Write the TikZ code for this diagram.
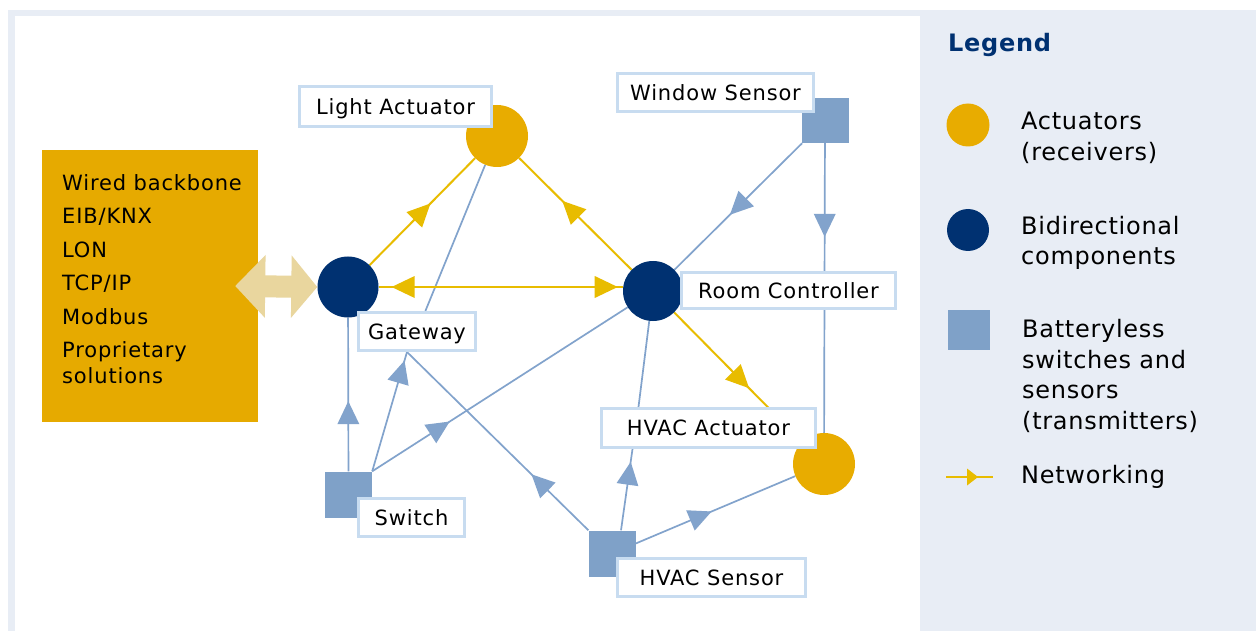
\documentclass[tikz,border=0pt]{standalone}
\usepackage{fontspec}
\setmainfont{DejaVu Sans}
\newfontfamily\lblfam[LetterSpace=4]{DejaVu Sans}
\newfontfamily\legfam[LetterSpace=3]{DejaVu Sans}
\newcommand\lblfont{\lblfam\fontsize{21}{26}\selectfont}
\newcommand\legfont{\legfam\fontsize{24}{30.7}\selectfont}
\newcommand\legtitle{\legfam\bfseries\fontsize{24}{30}\selectfont}
\usetikzlibrary{arrows.meta,decorations.markings,calc}
\definecolor{navy}{RGB}{0,49,113}
\definecolor{actyellow}{RGB}{232,172,0}
\definecolor{bbyellow}{RGB}{230,170,0}
\definecolor{sqblue}{RGB}{127,161,200}
\definecolor{lineblue}{RGB}{130,163,204}
\definecolor{lineyellow}{RGB}{232,188,0}
\definecolor{lblue}{RGB}{200,220,240}
\definecolor{tanc}{RGB}{233,214,158}
\definecolor{legbg}{RGB}{232,237,245}
\pgfdeclarelayer{bg}
\pgfdeclarelayer{edges}
\pgfsetlayers{bg,edges,main}
\tikzset{
  lbl/.style={draw=lblue, line width=3pt, fill=white, inner sep=0pt, font=\lblfont, text height=17pt, text depth=1.6pt},
  act/.style={circle, fill=actyellow, minimum size=62pt, inner sep=0pt},
  bid/.style={circle, fill=navy, minimum size=61pt, inner sep=0pt},
  sen/.style={rectangle, fill=sqblue, minimum width=47pt, minimum height=46pt, inner sep=0pt},
  bbox/.style={rectangle, fill=bbyellow, minimum width=216pt, minimum height=272pt, inner sep=0pt},
  bl/.style={color=lineblue, line width=1.7pt},
  yl/.style={color=lineyellow, line width=2pt},
  marr/.style={postaction={decorate, decoration={markings, mark=at position #1 with {\fill (1pt,0pt) -- (-22pt,11pt) -- (-22pt,-11pt) -- cycle;}}}},
  ymarr/.style={postaction={decorate, decoration={markings, mark=at position #1 with {\fill (1pt,0pt) -- (-22pt,11pt) -- (-22pt,-11pt) -- cycle;}}}},
  yrarr/.style={postaction={decorate, decoration={markings, mark=at position #1 with {\fill (-1pt,0pt) -- (22pt,11pt) -- (22pt,-11pt) -- cycle;}}}},
  smarr/.style={postaction={decorate, decoration={markings, mark=at position #1 with {\fill (1pt,0pt) -- (-10pt,8.5pt) -- (-10pt,-8.5pt) -- cycle;}}}},
  tanarr/.style={draw=tanc, line width=22pt, {Triangle[length=30pt,width=61pt]}-{Triangle[length=26pt,width=61pt]}},
  legtxt/.style={anchor=west, align=left, inner sep=0pt, font=\legfont},
}
\begin{document}
\begin{tikzpicture}[x=1pt,y=-1pt]
\useasboundingbox (0,0) rectangle (1256,631);

% shapes
\node[act] (la) at (497,136) {};
\node[bid] (gc) at (348,287) {};
\node[bid, minimum size=60pt] (rc) at (653,291) {};
\node[sen, minimum height=45pt] (ws) at (825,120.5) {};
\node[act] (hac) at (824,464) {};
\node[sen] (sw) at (348.5,494.5) {};
\node[sen] (hs) at (612,553.5) {};

% labels
\node[lbl, minimum width=192pt, minimum height=40pt] (lal) at (395.5,106.5) {Light Actuator};
\node[lbl, minimum width=196pt, minimum height=38pt] (wsl) at (715.5,92.5) {Window Sensor};
\node[lbl, minimum width=214pt, minimum height=36pt] (rcl) at (788.5,290.5) {Room Controller};
\node[lbl, minimum width=117pt, minimum height=38pt] (gwl) at (417,331.5) {Gateway};
\node[lbl, minimum width=214pt, minimum height=39pt] (hal) at (708.5,428) {HVAC Actuator};
\node[lbl, minimum width=106pt, minimum height=38pt] (swl) at (411.5,517.5) {Switch};
\node[lbl, minimum width=188pt, minimum height=38pt] (hsl) at (711.5,577.5) {HVAC Sensor};
\coordinate (gwb) at ([xshift=-10pt]gwl.south);

% background: frame, backbone box, fat arrow
\begin{pgfonlayer}{bg}
\fill[legbg] (8,10) rectangle (1256,631);
\fill[white] (15,16) rectangle (920,631);
\node[bbox] (bb) at (150,286) {};
\node[anchor=north west, inner sep=0pt, align=left, font=\lblfont] (bbt) at (62,174)
  {Wired backbone\\[7.5pt]EIB/KNX\\[7.5pt]LON\\[7.5pt]TCP/IP\\[7.5pt]Modbus\\[7.5pt]Proprietary\\solutions};
\draw[tanarr] ([xshift=-23pt]bb.east) -- (gc.west);
\end{pgfonlayer}

% connectors
\begin{pgfonlayer}{edges}
\draw[bl] (gwl) -- (la);
\draw[bl, marr=0.45] (sw) -- (gc);
\draw[bl, marr=0.92] (sw.north east) -- (gwb);
\draw[bl, marr=0.30] (sw.north east) -- (rc);
\draw[bl, marr=0.31] (hs) -- (gwb);
\draw[bl, marr=0.83] ([xshift=9pt]hs.north) -- ([xshift=-76pt]hal.south);
\draw[bl] ([xshift=-70pt]hal.north) -- (rc);
\draw[bl, marr=0.47] (hs) -- (hac);
\draw[bl, marr=0.56] (ws) -- (rc);
\draw[bl, marr=0.32] (ws) -- (hac);
\draw[yl, ymarr=0.57] (gc) -- (la);
\draw[yl, ymarr=0.61] (rc) -- (la);
\draw[yl, ymarr=0.58] (rc) -- (hac);
\draw[yl, yrarr=0.057, ymarr=0.975] (gc) -- (gc -| rc.west);
\end{pgfonlayer}

% legend
\node[anchor=west, inner sep=0pt, font=\legtitle, text=navy] (lgt) at (948,45) {Legend};
\node[act, minimum size=43pt] (lg1) at (968,125) {};
\node[legtxt] (lg1t) at (1021,137.5) {Actuators\\(receivers)};
\node[bid, minimum size=42pt] (lg2) at (968,230) {};
\node[legtxt] (lg2t) at (1021,243) {Bidirectional\\components};
\node[sen, minimum width=42pt, minimum height=40pt] (lg3) at (969,330) {};
\node[legtxt] (lg3t) at (1022,376) {Batteryless\\switches and\\sensors\\(transmitters)};
\coordinate (lg4a) at (946,477);
\coordinate (lg4b) at (993,477);
\draw[yl, line width=1.6pt, smarr=0.66] (lg4a) -- (lg4b);
\node[legtxt] (lg4t) at (1021,477) {Networking};
\end{tikzpicture}
\end{document}
